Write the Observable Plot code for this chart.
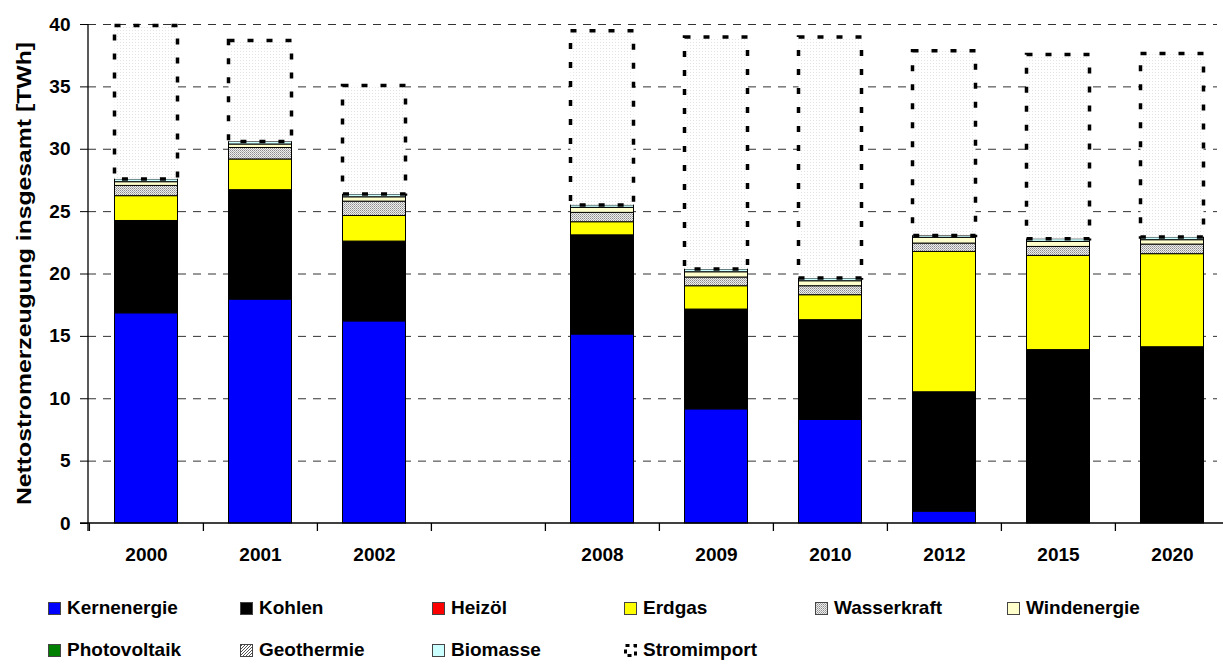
<!DOCTYPE html>
<html><head><meta charset="utf-8">
<script src="https://cdn.jsdelivr.net/npm/d3@7"></script>
<script src="https://cdn.jsdelivr.net/npm/@observablehq/plot@0.6"></script>
<style>
body{margin:0;background:#fff;font-family:"Liberation Sans",Arial,sans-serif;}
#wrap{position:relative;width:1223px;height:664px;overflow:hidden;background:#fff}
#wrap svg.plot{display:block}
.leg{position:absolute;display:flex;align-items:center;font-weight:bold;font-size:19px;white-space:nowrap;height:20px;color:#000}
.leg svg{margin-right:6px;display:block}
</style></head><body><div id="wrap"></div>
<script>
// ---- data ----
const years = ["2000", "2001", "2002", "2008", "2009", "2010", "2012", "2015", "2020"];
const gapLabel = " ";
const xDomain = ["2000", "2001", "2002", gapLabel, "2008", "2009", "2010", "2012", "2015", "2020"];
const sources = ["Kernenergie", "Kohlen", "Heizöl", "Erdgas", "Wasserkraft", "Windenergie",
                 "Photovoltaik", "Geothermie", "Biomasse", "Stromimport"];
const kernenergie  = [16.85, 17.95, 16.2, 15.15, 9.15, 8.3, 0.95, 0, 0];
const kohlen       = [7.4, 8.77, 6.4, 7.95, 8.0, 8.0, 9.57, 13.9, 14.13];
const heizoel      = [0, 0, 0, 0, 0, 0, 0, 0, 0];
const erdgas       = [1.99, 2.46, 2.05, 1.05, 1.87, 2.0, 11.25, 7.55, 7.46];
const wasserkraft  = [0.82, 0.92, 1.15, 0.75, 0.7, 0.72, 0.67, 0.72, 0.77];
const windenergie  = [0.3, 0.28, 0.35, 0.4, 0.42, 0.4, 0.46, 0.4, 0.35];
const photovoltaik = [0, 0, 0, 0, 0, 0, 0, 0, 0];
const geothermie   = [0, 0, 0, 0, 0, 0, 0, 0, 0];
const biomasse     = [0.22, 0.21, 0.22, 0.2, 0.22, 0.22, 0.15, 0.22, 0.22];
const stromimport  = [12.3, 8.09, 8.7, 13.96, 18.6, 19.32, 14.81, 14.76, 14.7];
const yTicks = [0, 5, 10, 15, 20, 25, 30, 35, 40];
const yTitle = "Nettostromerzeugung insgesamt [TWh]";

const seriesValues = [kernenergie, kohlen, heizoel, erdgas, wasserkraft, windenergie,
                      photovoltaik, geothermie, biomasse, stromimport];
const fills = ["#0000FF", "#000000", "#FF0000", "#FFFF00", "url(#pWasser)", "#FFFFCC",
               "#008000", "url(#pGeo)", "#CCFFFF", "url(#pStrom)"];

// stacked rows (cumulative sums of the values)
const rows = [];
years.forEach((yr, i) => {
  let cum = 0;
  sources.forEach((s, k) => {
    const v = seriesValues[k][i];
    rows.push({year: yr, source: s, value: v, y1: cum, y2: cum + v});
    cum += v;
  });
});

// ---- pattern defs ----
const defsMark = () => {
  const d = d3.create("svg:defs");
  const pw = d.append("pattern").attr("id", "pWasser").attr("patternUnits", "userSpaceOnUse").attr("width", 2).attr("height", 2);
  pw.append("rect").attr("width", 2).attr("height", 2).attr("fill", "#eeeeee");
  pw.append("rect").attr("width", 1).attr("height", 1).attr("fill", "#8c8c8c");
  pw.append("rect").attr("x", 1).attr("y", 1).attr("width", 1).attr("height", 1).attr("fill", "#b0b0b0");
  const pg = d.append("pattern").attr("id", "pGeo").attr("patternUnits", "userSpaceOnUse").attr("width", 3).attr("height", 3);
  pg.append("rect").attr("width", 3).attr("height", 3).attr("fill", "#fff");
  pg.append("path").attr("d", "M0,3L3,0M-1,1L1,-1M2,4L4,2").attr("stroke", "#555").attr("stroke-width", 1);
  const ps = d.append("pattern").attr("id", "pStrom").attr("patternUnits", "userSpaceOnUse").attr("width", 3).attr("height", 3);
  ps.append("rect").attr("width", 3).attr("height", 3).attr("fill", "#fff");
  ps.append("rect").attr("width", 1).attr("height", 1).attr("fill", "#e4e4e4");
  return d.node();
};

const frameLines = (index, scales, values, dims) => {
  const g = d3.create("svg:g").attr("stroke", "#000").attr("stroke-width", 1.3);
  const y0 = scales.y(0);
  g.append("line").attr("x1", dims.marginLeft).attr("x2", dims.marginLeft)
    .attr("y1", dims.marginTop).attr("y2", y0 + 8);
  g.append("line").attr("x1", dims.marginLeft - 8).attr("x2", dims.width)
    .attr("y1", y0).attr("y2", y0);
  return g.node();
};

const titleMark = (index, scales, values, dims) => {
  const cy = (dims.marginTop + dims.height - dims.marginBottom) / 2;
  const t = d3.create("svg:text")
    .attr("transform", `translate(31,${cy}) rotate(-90)`)
    .attr("text-anchor", "middle")
    .attr("font-size", 21)
    .attr("font-weight", "bold")
    .attr("fill", "#000")
    .attr("textLength", 463)
    .attr("lengthAdjust", "spacingAndGlyphs")
    .text(yTitle);
  return t.node();
};

const step = (1230 - 88) / xDomain.length;
const barMarks = sources.map((s, k) => {
  const data = rows.filter(r => r.source === s && r.value > 0);
  if (s === "Stromimport") {
    return Plot.barY(data, {x: "year", y1: "y1", y2: "y2", fill: fills[k],
      stroke: "#000", strokeWidth: 3.5, strokeDasharray: "6,13", insetLeft: 25.5, insetRight: 25.5});
  }
  return Plot.barY(data, {x: "year", y1: "y1", y2: "y2", fill: fills[k],
    stroke: "#000", strokeWidth: 1, insetLeft: 25.5, insetRight: 25.5});
});

const chart = Plot.plot({
  width: 1223, height: 580,
  marginLeft: 88, marginRight: 6, marginTop: 24, marginBottom: 57,
  style: {fontFamily: "'Liberation Sans', Arial, sans-serif", fontWeight: "bold", fontSize: "19px", color: "#000", background: "#fff"},
  x: {type: "band", domain: xDomain, range: [88, 1230], padding: 0, label: null},
  y: {domain: [0, 40], label: null},
  marks: [
    defsMark,
    Plot.gridY(yTicks.filter(t => t > 0), {stroke: "#333", strokeOpacity: 1, strokeDasharray: "8,7"}),
    ...barMarks,
    frameLines,
    Plot.axisY({ticks: yTicks, tickSize: 8, tickPadding: 10, label: null, fontSize: 19, fontWeight: "bold"}),
    Plot.axisX({tickSize: 0, tickPadding: 24, label: null, fontSize: 19, fontWeight: "bold", tickFormat: d => d.trim()}),
    Plot.axisX({tickSize: 8, label: null, tickFormat: () => "", dx: -step / 2, strokeWidth: 1.3}),
    titleMark
  ]
});
chart.classList.add("plot");
const wrap = document.getElementById("wrap");
wrap.appendChild(chart);

// ---- legend ----
const colX = [48, 240, 432, 624, 815, 1007];
const rowY = [608, 650];
sources.forEach((s, k) => {
  const div = document.createElement("div");
  div.className = "leg";
  div.style.left = colX[k % 6] + "px";
  div.style.top = (rowY[Math.floor(k / 6)] - 10) + "px";
  let sw;
  if (s === "Stromimport") {
    sw = `<svg width="13" height="13"><rect x="1.5" y="1.5" width="10" height="10" fill="#fff" stroke="#000" stroke-width="3" stroke-dasharray="4,4"/></svg>`;
  } else {
    sw = `<svg width="13" height="13"><rect x="0.5" y="0.5" width="12" height="12" fill="${fills[k]}" stroke="#444" stroke-width="1"/></svg>`;
  }
  div.innerHTML = sw + `<span>${s}</span>`;
  wrap.appendChild(div);
});
</script>
</body></html>
